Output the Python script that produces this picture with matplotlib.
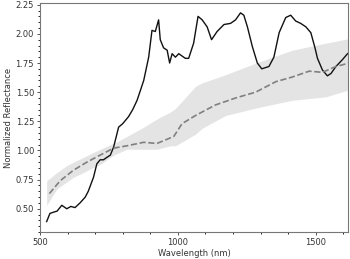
import numpy as np
import matplotlib.pyplot as plt
from matplotlib.ticker import MultipleLocator

# spectrum of the sample
wl_sample = [524, 536, 548, 562, 579, 597, 612, 627, 645, 664, 675, 694, 706, 718, 730, 742, 755,
             767, 785, 800, 821, 836, 852, 876, 894, 906, 918, 930, 936, 948, 961, 970, 979,
             991, 1003, 1027, 1039, 1057, 1073, 1088, 1106, 1122, 1142, 1167, 1191, 1209,
             1227, 1239, 1252, 1270, 1288, 1304, 1330, 1348, 1367, 1391, 1409, 1427, 1445,
             1464, 1482, 1497, 1506, 1524, 1542, 1555, 1573, 1597, 1615]
refl_sample = [0.39, 0.46, 0.47, 0.48, 0.53, 0.50, 0.52, 0.51, 0.55, 0.60, 0.65, 0.77, 0.885, 0.92,
               0.92, 0.94, 0.96, 1.03, 1.20, 1.23, 1.29, 1.35, 1.43, 1.60, 1.80, 2.03, 2.02,
               2.12, 1.95, 1.88, 1.86, 1.75, 1.83, 1.80, 1.83, 1.79, 1.79, 1.92, 2.15, 2.12,
               2.06, 1.95, 2.02, 2.08, 2.09, 2.12, 2.18, 2.16, 2.06, 1.89, 1.75, 1.70, 1.72,
               1.80, 2.01, 2.14, 2.16, 2.11, 2.09, 2.06, 2.01, 1.88, 1.79, 1.69, 1.64, 1.66,
               1.72, 1.78, 1.83]

# library mean and spread
wl_mean = [534, 573, 621, 670, 718, 767, 815, 876, 924, 985, 1015, 1064, 1136, 1209, 1282,
           1355, 1415, 1476, 1524, 1573, 1621]
refl_mean = [0.63, 0.74, 0.83, 0.90, 0.96, 1.02, 1.04, 1.07, 1.06, 1.12, 1.23, 1.30, 1.39,
             1.45, 1.50, 1.59, 1.63, 1.68, 1.67, 1.72, 1.75]

wl_band = [524, 561, 597, 621, 657, 682, 718, 755, 767, 815, 876, 924, 973, 991, 1064, 1088,
           1173, 1294, 1415, 1536, 1621]
band_upper = [0.74, 0.81, 0.87, 0.90, 0.94, 0.97, 1.01, 1.05, 1.06, 1.12, 1.20, 1.27, 1.33,
              1.36, 1.55, 1.58, 1.65, 1.76, 1.86, 1.92, 1.96]
band_lower = [0.53, 0.67, 0.73, 0.77, 0.81, 0.84, 0.88, 0.94, 0.96, 1.01, 1.01, 1.01, 1.04,
              1.04, 1.14, 1.19, 1.30, 1.37, 1.43, 1.46, 1.52]

plt.rcParams['font.size'] = 6
fig = plt.figure(figsize=(3.5, 2.59), dpi=100)
ax = fig.add_axes([0.1143, 0.103, 0.881, 0.8865])

ax.plot(wl_sample, refl_sample, color='#111111', lw=1.0)
ax.fill_between(wl_band, band_lower, band_upper, color='#dcdcdc', alpha=0.75, lw=0)
ax.plot(wl_mean, refl_mean, color='#808080', lw=1.2, ls='--')

ax.set_xlim(500, 1618)
ax.set_ylim(0.298, 2.267)
ax.xaxis.set_major_locator(MultipleLocator(500))
ax.xaxis.set_minor_locator(MultipleLocator(100))
ax.yaxis.set_major_locator(MultipleLocator(0.25))
ax.yaxis.set_minor_locator(MultipleLocator(0.05))
ax.tick_params(colors='#555555', labelcolor='#333333', length=2.5, width=0.7, pad=1.8)
ax.tick_params(which='minor', length=1.5, width=0.6)
for s in ax.spines.values():
    s.set_color('#777777')
    s.set_linewidth(0.8)

ax.set_xlabel('Wavelength (nm)', color='#333333', labelpad=1.5)
ax.set_ylabel('Normalized Reflectance', color='#333333', labelpad=2)

fig.savefig('out.png', dpi=100)
